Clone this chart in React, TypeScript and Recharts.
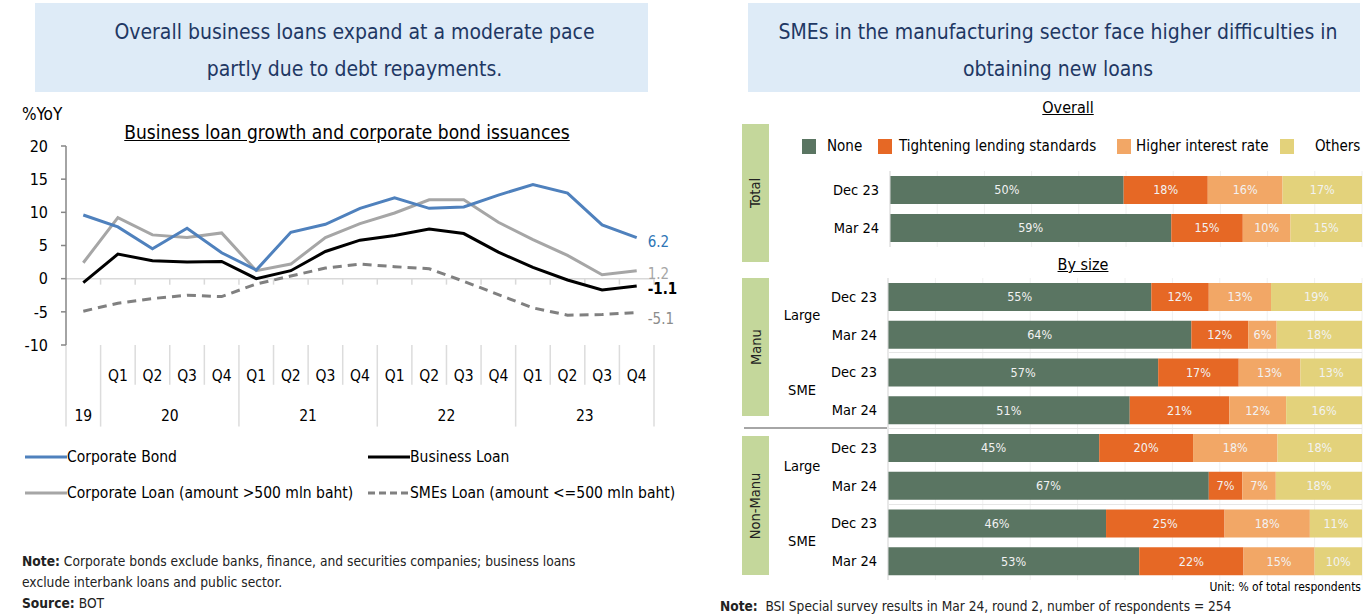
import React from 'react';
import { LineChart, Line, XAxis, YAxis, ReferenceLine, LabelList, BarChart, Bar, CartesianGrid } from 'recharts';

const FONT = '"DejaVu Sans Condensed", "DejaVu Sans", sans-serif';

// left panel: %YoY, Q4 2019 .. Q4 2023
const QUARTERS = ['Q4', 'Q1', 'Q2', 'Q3', 'Q4', 'Q1', 'Q2', 'Q3', 'Q4', 'Q1', 'Q2', 'Q3', 'Q4', 'Q1', 'Q2', 'Q3', 'Q4'];
const QUARTER_YEARS = ['19', '20', '20', '20', '20', '21', '21', '21', '21', '22', '22', '22', '22', '23', '23', '23', '23'];
const CORPORATE_BOND = [9.6, 7.8, 4.5, 7.6, 3.9, 1.3, 7.0, 8.2, 10.6, 12.2, 10.6, 10.8, 12.6, 14.2, 12.9, 8.1, 6.2];
const BUSINESS_LOAN = [-0.6, 3.7, 2.7, 2.5, 2.6, 0.0, 1.2, 4.1, 5.8, 6.5, 7.5, 6.8, 4.0, 1.7, -0.2, -1.7, -1.1];
const CORPORATE_LOAN = [2.4, 9.2, 6.6, 6.2, 6.9, 1.2, 2.2, 6.2, 8.3, 9.9, 11.9, 11.9, 8.5, 5.9, 3.5, 0.6, 1.2];
const SME_LOAN = [-4.9, -3.7, -3.0, -2.5, -2.7, -0.8, 0.4, 1.6, 2.2, 1.8, 1.5, -0.4, -2.4, -4.4, -5.5, -5.4, -5.1];
const Y_TICKS = [-10, -5, 0, 5, 10, 15, 20];

// right panel: survey shares, %
const TOTAL_PERIODS = ['Dec 23', 'Mar 24'];
const TOTAL_NONE = [50, 59];
const TOTAL_TIGHT = [18, 15];
const TOTAL_RATE = [16, 10];
const TOTAL_OTHER = [17, 15];

const SIZE_PERIODS = ['Dec 23', 'Mar 24', 'Dec 23', 'Mar 24', 'Dec 23', 'Mar 24', 'Dec 23', 'Mar 24'];
const SIZE_GROUPS = ['Large', 'Large', 'SME', 'SME', 'Large', 'Large', 'SME', 'SME'];
const SECTORS = ['Manu', 'Manu', 'Manu', 'Manu', 'Non-Manu', 'Non-Manu', 'Non-Manu', 'Non-Manu'];
const SIZE_NONE = [55, 64, 57, 51, 45, 67, 46, 53];
const SIZE_TIGHT = [12, 12, 17, 21, 20, 7, 25, 22];
const SIZE_RATE = [13, 6, 13, 12, 18, 7, 18, 15];
const SIZE_OTHER = [19, 18, 13, 16, 18, 18, 11, 10];

const lineData = QUARTERS.map((q, i) => ({
  i,
  q,
  bond: CORPORATE_BOND[i],
  loan: BUSINESS_LOAN[i],
  corp: CORPORATE_LOAN[i],
  sme: SME_LOAN[i],
}));
const idx = lineData.map((d) => d.i);
const yearNames = Array.from(new Set(QUARTER_YEARS));
const yearCenters = yearNames.map((y) => {
  const ids = idx.filter((i) => QUARTER_YEARS[i] === y);
  return (ids[0] + ids[ids.length - 1]) / 2;
});
const bounds = [-0.5, ...idx.map((i) => i + 0.5)];
const isYearBound = (b: number) =>
  b < 0 || b > idx.length - 1 || QUARTER_YEARS[b - 0.5] !== QUARTER_YEARS[b + 0.5];

const lines = [
  { key: 'bond', name: 'Corporate Bond', color: '#4f81bd', label: '#2e75b6', dy: 4, bold: false },
  { key: 'loan', name: 'Business Loan', color: '#000000', label: '#000000', dy: 3, bold: true },
  { key: 'corp', name: 'Corporate Loan (amount >500 mln baht)', color: '#a6a6a6', label: '#a6a6a6', dy: 3, bold: false },
  { key: 'sme', name: 'SMEs Loan (amount <=500 mln baht)', color: '#808080', label: '#8c8c8c', dy: 7, bold: false, dash: '9 6' },
];

const bars = [
  { key: 'none', name: 'None', color: '#5a7562' },
  { key: 'tight', name: 'Tightening lending standards', color: '#e66825' },
  { key: 'rate', name: 'Higher interest rate', color: '#f2a766' },
  { key: 'other', name: 'Others', color: '#e3d27b' },
];
const LEGEND_SQ = [802, 878, 1117, 1280];
const LEGEND_TX = [827, 899, 1136, 1315];

const totalData = TOTAL_PERIODS.map((p, i) => ({
  row: p,
  period: p,
  none: TOTAL_NONE[i],
  tight: TOTAL_TIGHT[i],
  rate: TOTAL_RATE[i],
  other: TOTAL_OTHER[i],
}));
const sizeData = SIZE_PERIODS.map((p, i) => ({
  row: `${SECTORS[i]} ${SIZE_GROUPS[i]} ${p}`,
  period: p,
  size: SIZE_GROUPS[i],
  none: SIZE_NONE[i],
  tight: SIZE_TIGHT[i],
  rate: SIZE_RATE[i],
  other: SIZE_OTHER[i],
}));

const QuarterTick = (props: any) => {
  const { x, y, payload } = props;
  const i = payload.value;
  if (i === 0) return null;
  return (
    <text x={x} y={y + 28} textAnchor="middle" fontSize={15.5} fill="#000" fontFamily={FONT}>
      {QUARTERS[i]}
    </text>
  );
};

const YearTick = (props: any) => {
  const { x, y, index } = props;
  return (
    <text x={x} y={y + 18} textAnchor="middle" fontSize={15.5} fill="#000" fontFamily={FONT}>
      {yearNames[index]}
    </text>
  );
};

const endLabel = (s: any) => (p: any) => {
  if (p.index !== idx.length - 1) return null;
  return (
    <text x={p.x + 11} y={p.y + s.dy} dy={5} fontSize={15} fill={s.label} fontWeight={s.bold ? 700 : 400} fontFamily={FONT}>
      {p.value}
    </text>
  );
};

const periodTick = (rows: any[], withSize: boolean) => (props: any) => {
  const { x, y, index } = props;
  const r = rows[index];
  return (
    <g>
      <text x={x - 3} y={y} dy={5} textAnchor="end" fontSize={14.5} fill="#000" fontFamily={FONT}>
        {r.period}
      </text>
      {withSize && index % 2 === 0 ? (
        <text x={x - 78} y={y + 18} dy={5} textAnchor="middle" fontSize={14.5} fill="#000" fontFamily={FONT}>
          {r.size}
        </text>
      ) : null}
    </g>
  );
};

const pctLabel = (v: any) => `${v}%`;

function StackBars({ data, height, yWidth, withSize }: { data: any[]; height: number; yWidth: number; withSize: boolean }) {
  return (
    <BarChart
      layout="vertical"
      width={643}
      height={height}
      data={data}
      stackOffset="expand"
      barSize={28}
      margin={{ top: 0, right: 1, bottom: 0, left: 0 }}
    >
      <CartesianGrid horizontal={false} stroke="#f0f0f0" />
      <XAxis type="number" hide domain={[0, 1]} ticks={[0, 0.1, 0.2, 0.3, 0.4, 0.5, 0.6, 0.7, 0.8, 0.9, 1]} />
      <YAxis
        type="category"
        dataKey="row"
        width={yWidth}
        axisLine={{ stroke: '#d9d9d9' }}
        tickLine={false}
        interval={0}
        tick={periodTick(data, withSize)}
      />
      {bars.map((b) => (
        <Bar key={b.key} dataKey={b.key} name={b.name} stackId="s" fill={b.color} isAnimationActive={false}>
          <LabelList dataKey={b.key} position="center" formatter={pctLabel} fill="#f2f2f2" fontSize={12.5} fontFamily={FONT} />
        </Bar>
      ))}
    </BarChart>
  );
}

const box: React.CSSProperties = {
  position: 'absolute',
  background: '#deebf7',
  color: '#1f3864',
  fontSize: 21,
  textAlign: 'center',
  lineHeight: '37px',
  paddingTop: 11,
  boxSizing: 'border-box',
};

const sideBox = (top: number, h: number, text: string) => (
  <div
    style={{
      position: 'absolute',
      left: 742,
      top,
      width: 27,
      height: h,
      background: '#c4d79b',
      display: 'flex',
      alignItems: 'center',
      justifyContent: 'center',
    }}
  >
    <div style={{ transform: 'rotate(-90deg)', whiteSpace: 'nowrap', fontSize: 14.5, color: '#222' }}>{text}</div>
  </div>
);

const hline = (left: number, top: number, width: number, color: string, h = 1) => (
  <div style={{ position: 'absolute', left, top, width, height: h, background: color }} />
);

export default function App() {
  return (
    <div style={{ position: 'absolute', left: 0, top: 0, width: 1363, height: 616, background: '#fff', fontFamily: FONT, overflow: 'hidden' }}>
      {/* left panel */}
      <div style={{ ...box, left: 35, top: 3, width: 613, height: 89, paddingLeft: 26 }}>
        Overall business loans expand at a moderate pace
        <br />
        partly due to debt repayments.
      </div>
      <div style={{ position: 'absolute', left: 22, top: 104, fontSize: 17 }}>%YoY</div>
      <div style={{ position: 'absolute', left: 47, width: 600, top: 121, fontSize: 19, textAlign: 'center', textDecoration: 'underline' }}>
        Business loan growth and corporate bond issuances
      </div>
      <div style={{ position: 'absolute', left: 0, top: 0 }}>
        <LineChart width={700} height={440} data={lineData} margin={{ top: 146, right: 46, bottom: 0, left: 0 }}>
          <YAxis
            domain={[-10, 20]}
            ticks={Y_TICKS}
            width={66}
            axisLine={{ stroke: '#868686', strokeWidth: 1.5 }}
            tickLine={{ stroke: '#868686', strokeWidth: 1.5 }}
            tickSize={5}
            tickMargin={13}
            tick={{ fontSize: 16, fill: '#000', fontFamily: FONT }}
          />
          <XAxis
            type="number"
            dataKey="i"
            domain={[-0.5, idx.length - 0.5]}
            ticks={idx}
            interval={0}
            allowDataOverflow
            axisLine={false}
            tickLine={false}
            height={50}
            tick={QuarterTick}
          />
          <XAxis
            xAxisId="year"
            type="number"
            dataKey="i"
            domain={[-0.5, idx.length - 0.5]}
            ticks={yearCenters}
            interval={0}
            allowDataOverflow
            axisLine={false}
            tickLine={false}
            height={45}
            tick={YearTick}
          />
          <ReferenceLine y={0} stroke="#d9d9d9" strokeWidth={1.5} />
          {bounds.slice(1).map((b) => (
            <ReferenceLine
              key={`z${b}`}
              segment={[{ x: b, y: 0 }, { x: b, y: -0.9 }]}
              stroke="#d9d9d9"
              strokeWidth={1.5}
              ifOverflow="visible"
            />
          ))}
          {bounds.map((b) => (
            <ReferenceLine
              key={`s${b}`}
              segment={[{ x: b, y: -10 }, { x: b, y: isYearBound(b) ? -22.3 : -16 }]}
              stroke="#dcdcdc"
              strokeWidth={1.5}
              ifOverflow="visible"
            />
          ))}
          {[...lines].reverse().map((s) => (
            <Line
              key={s.key}
              type="linear"
              dataKey={s.key}
              name={s.name}
              stroke={s.color}
              strokeWidth={3}
              strokeDasharray={s.dash}
              dot={false}
              isAnimationActive={false}
            >
              <LabelList dataKey={s.key} content={endLabel(s)} />
            </Line>
          ))}
        </LineChart>
      </div>
      <div style={{ position: 'absolute', left: 25, top: 446, display: 'grid', gridTemplateColumns: '343px auto', rowGap: 14, fontSize: 15.5 }}>
        {lines.map((s) => (
          <div key={s.key} style={{ display: 'flex', alignItems: 'center', height: 22 }}>
            <svg width={42} height={6}>
              <line x1={0} y1={3} x2={42} y2={3} stroke={s.color} strokeWidth={3} strokeDasharray={s.dash ? '7 4' : undefined} />
            </svg>
            <span>{s.name}</span>
          </div>
        ))}
      </div>
      <div style={{ position: 'absolute', left: 22, top: 551, fontSize: 13.7, lineHeight: '21px', color: '#222' }}>
        <b>Note:</b> Corporate bonds exclude banks, finance, and securities companies; business loans
        <br />
        exclude interbank loans and public sector.
        <br />
        <b>Source:</b> <span style={{ fontWeight: 400 }}>BOT</span>
      </div>

      {/* right panel */}
      <div style={{ ...box, left: 748, top: 3, width: 612, height: 89, paddingLeft: 8 }}>
        SMEs in the manufacturing sector face higher difficulties in
        <br />
        obtaining new loans
      </div>
      <div style={{ position: 'absolute', left: 968, width: 200, top: 98, fontSize: 16, textAlign: 'center', textDecoration: 'underline' }}>
        Overall
      </div>
      {sideBox(124, 138, 'Total')}
      {sideBox(278, 138, 'Manu')}
      {sideBox(436, 139, 'Non-Manu')}
      {bars.map((b, k) => (
        <React.Fragment key={b.key}>
          <div style={{ position: 'absolute', left: LEGEND_SQ[k], top: 139, width: 14, height: 15, background: b.color }} />
          <div style={{ position: 'absolute', left: LEGEND_TX[k], top: 137, fontSize: 15, whiteSpace: 'nowrap' }}>{b.name}</div>
        </React.Fragment>
      ))}
      <div style={{ position: 'absolute', left: 720, top: 171 }}>
        <StackBars data={totalData} height={76} yWidth={170} withSize={false} />
      </div>
      <div style={{ position: 'absolute', left: 983, width: 200, top: 255, fontSize: 16, textAlign: 'center', textDecoration: 'underline' }}>
        By size
      </div>
      <div style={{ position: 'absolute', left: 720, top: 278 }}>
        <StackBars data={sizeData} height={302} yWidth={168} withSize />
      </div>
      {hline(889, 352, 473, '#e6e6e6')}
      {hline(744, 427, 143, '#a6a6a6', 2)}
      {hline(889, 428, 473, '#e6e6e6')}
      {hline(889, 504, 473, '#e6e6e6')}
      <div style={{ position: 'absolute', right: 2, top: 580, fontSize: 12 }}>Unit: % of total respondents</div>
      <div style={{ position: 'absolute', left: 720, top: 598, fontSize: 13.6, color: '#222' }}>
        <b>Note:</b>&nbsp; BSI Special survey results in Mar 24, round 2, number of respondents = 254
      </div>
    </div>
  );
}
